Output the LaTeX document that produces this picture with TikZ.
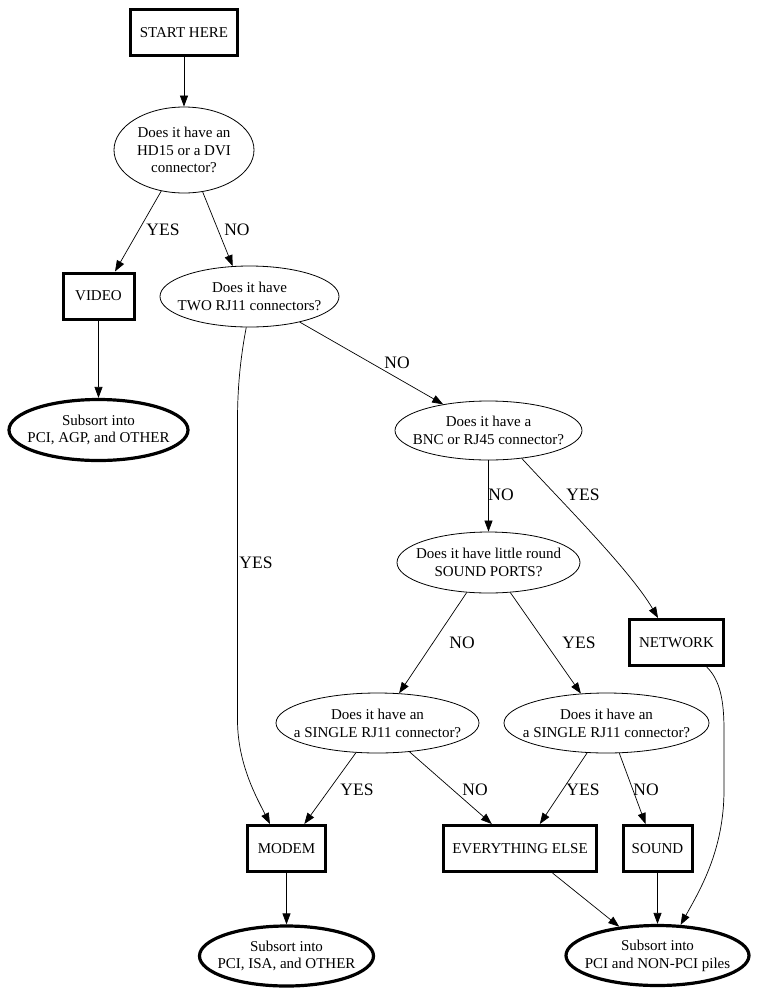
\documentclass[tikz,border=0pt]{standalone}
\usepackage{fontspec}
\setmainfont{Liberation Serif}
\usetikzlibrary{arrows.meta,shapes.geometric}
\begin{document}
\begin{tikzpicture}[x=1pt,y=-1pt,
  box/.style={draw, line width=3pt, rectangle, minimum height=46pt, inner sep=0pt,
    font=\fontsize{15}{18}\selectfont},
  qell/.style={draw, line width=0.8pt, ellipse, inner sep=0pt},
  fell/.style={draw, line width=3.2pt, ellipse, inner sep=0pt},
  qtext/.style={align=center, inner sep=0pt, font=\fontsize{15}{17.8}\selectfont},
  lab/.style={inner sep=0pt, font=\fontsize{17.5}{20}\selectfont},
  arr/.style={line width=0.7pt, -{Triangle[length=11pt,width=8pt]}}
]
\useasboundingbox (0,0) rectangle (767,994);

% nodes
\node[box, minimum width=107pt] (start) at (184,32.5) {START HERE};
\node[qell, minimum width=140pt, minimum height=86pt,
  label={[qtext]center:{Does it have an\\HD15 or a DVI\\connector?}}] (q1) at (184,150) {};
\node[box, minimum width=71pt] (video) at (98.5,296) {VIDEO};
\node[qell, minimum width=179pt, minimum height=61pt,
  label={[qtext]center:{Does it have\\TWO RJ11 connectors?}}] (q2) at (249.5,296.5) {};
\node[fell, minimum width=179pt, minimum height=61pt,
  label={[qtext]center:{Subsort into\\PCI, AGP, and OTHER}}] (sub1) at (98.5,430) {};
\node[qell, minimum width=187pt, minimum height=59pt,
  label={[qtext]center:{Does it have a\\BNC or RJ45 connector?}}] (q3) at (488.5,430.5) {};
\node[qell, minimum width=183pt, minimum height=61pt,
  label={[qtext]center:{Does it have little round\\SOUND PORTS?}}] (q4) at (488.5,562.5) {};
\node[box, minimum width=94pt] (network) at (676.5,642.5) {NETWORK};
\node[qell, minimum width=203pt, minimum height=60pt,
  label={[qtext]center:{Does it have an\\a SINGLE RJ11 connector?}}] (q5) at (377.5,723) {};
\node[qell, minimum width=205pt, minimum height=60pt,
  label={[qtext]center:{Does it have an\\a SINGLE RJ11 connector?}}] (q6) at (606.5,723) {};
\node[box, minimum width=78pt] (modem) at (286.5,848.5) {MODEM};
\node[box, minimum width=153pt] (everything) at (520,848.5) {EVERYTHING ELSE};
\node[box, minimum width=69pt] (sound) at (657.5,848.5) {SOUND};
\node[fell, minimum width=174pt, minimum height=60pt,
  label={[qtext]center:{Subsort into\\PCI, ISA, and OTHER}}] (sub2) at (286.5,956) {};
\node[fell, minimum width=183pt, minimum height=60pt,
  label={[qtext]center:{Subsort into\\PCI and NON-PCI piles}}] (sub3) at (657.5,955.5) {};

% connectors
\draw[arr] (start.south) -- (q1.north);
\draw[arr] (q1.-119) -- (video.56);
\draw[arr] (q1.-66) -- (q2.119);
\draw[arr] (video.south) -- (sub1.north);
\draw[arr] (q2.-96) .. controls (240,360) and (237.5,390) .. (237.5,420)
  -- (237.5,720) .. controls (237.5,765) and (258,800) .. (modem.124);
\draw[arr] (q2.-27) -- (q3.150);
\draw[arr] (q3.south) -- (q4.north);
\draw[arr] (q3.-40) .. controls (560,500) and (630,570) .. (network.127);
\draw[arr] (q4.-126) -- (q5.54);
\draw[arr] (q4.-54) -- (q6.131);
\draw[arr] (q5.-126) -- (modem.54);
\draw[arr] (q5.-42) -- (everything.139);
\draw[arr] (q6.-123) -- (everything.51);
\draw[arr] (q6.-67) -- (sound.116);
\draw[arr] (modem.south) -- (sub2.north);
\draw[arr] (everything.-37) -- (sub3.143);
\draw[arr] (sound.south) -- (sub3.north);
\draw[arr] (network.-39) .. controls (720,680) and (724,700) .. (724,730)
  -- (724,790) .. controls (724,850) and (700,890) .. (sub3.53);

% edge labels
\node[lab] (l1) at (163,230) {YES};
\node[lab] (l2) at (237,230) {NO};
\node[lab] (l3) at (256,563) {YES};
\node[lab] (l4) at (397,363) {NO};
\node[lab] (l5) at (501,495) {NO};
\node[lab] (l6) at (583,495) {YES};
\node[lab] (l7) at (462,643) {NO};
\node[lab] (l8) at (579,643) {YES};
\node[lab] (l9) at (357,790) {YES};
\node[lab] (l10) at (475,790) {NO};
\node[lab] (l11) at (583,790) {YES};
\node[lab] (l12) at (646,790) {NO};
\end{tikzpicture}
\end{document}
